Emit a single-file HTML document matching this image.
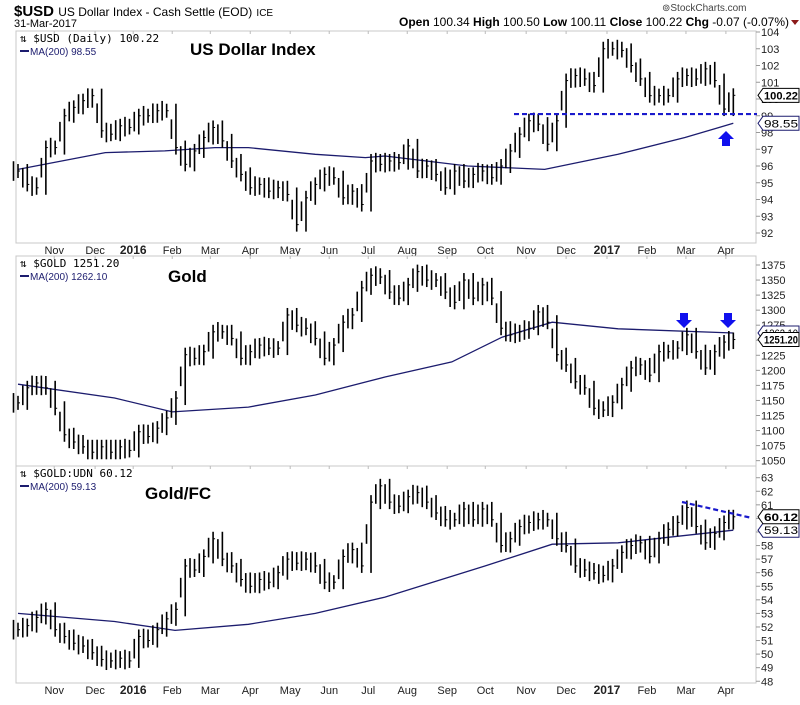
<!DOCTYPE html>
<html><head><meta charset="utf-8">
<style>
html,body{margin:0;padding:0;background:#fff;}
body{width:800px;height:700px;overflow:hidden;font-family:"Liberation Sans",sans-serif;}
svg text{font-family:"Liberation Sans",sans-serif;}
</style></head>
<body>
<svg id="chart" width="800" height="700" viewBox="0 0 800 700" xmlns="http://www.w3.org/2000/svg">
  <g>
    <text x="14" y="16" font-size="15" font-weight="bold">$USD <tspan font-size="12" font-weight="normal">US Dollar Index - Cash Settle (EOD)</tspan> <tspan font-size="10" font-weight="normal">ICE</tspan></text>
    <text x="14" y="27" font-size="11">31-Mar-2017</text>
    <text x="662" y="11" font-size="10" fill="#444">⊚StockCharts.com</text>
    <text x="789" y="26" font-size="12" text-anchor="end"><tspan font-weight="bold">Open</tspan> 100.34 <tspan font-weight="bold">High</tspan> 100.50 <tspan font-weight="bold">Low</tspan> 100.11 <tspan font-weight="bold">Close</tspan> 100.22 <tspan font-weight="bold">Chg</tspan> -0.07 (-0.07%)</text>
    <path d="M791 20 L799 20 L795 25 Z" fill="#8b1a1a"/>
  </g>
  <g id="panels"></g>
</svg>
<script>
// ---------- data ----------
const monthLabels = ["Nov","Dec","2016","Feb","Mar","Apr","May","Jun","Jul","Aug","Sep","Oct","Nov","Dec","2017","Feb","Mar","Apr"];
const monthIdx = [3.9,8.3,12.4,16.6,20.7,25.0,29.3,33.5,37.7,41.9,46.2,50.3,54.7,59.0,63.4,67.7,71.9,76.2];

const usdClose = [95.7,94.9,94.7,97.1,97.1,99.0,99.5,99.9,100.2,98.1,97.9,98.4,98.3,99.0,99.0,99.3,99.3,97.1,96.1,96.9,97.7,98.3,97.5,96.3,95.5,94.7,94.9,94.5,94.7,94.3,92.5,94.1,94.9,95.5,95.3,94.1,94.5,93.7,96.3,96.1,96.3,96.2,97.2,95.7,96.0,95.5,94.7,95.7,95.1,95.5,95.7,95.3,96.0,96.9,97.9,98.7,98.5,97.3,98.7,101.1,101.4,101.2,100.8,103.0,103.0,102.9,102.0,101.2,100.2,100.2,100.2,101.2,101.4,101.2,101.8,101.1,99.4,100.22];
const usdMaIdx = [0,9.4,15.8,21.2,24.8,32,37.4,39.5,48.4,56.7,64.6,71.8,77];
const usdMaVal = [95.8,96.8,96.9,97.1,97.1,96.7,96.5,96.6,96.0,95.8,96.7,97.7,98.55];
const usdTicks = [92,93,94,95,96,97,98,99,100,101,102,103,104];

const goldClose = [1146,1171,1179,1171,1137,1093,1081,1073,1064,1073,1064,1073,1067,1098,1090,1104,1121,1154,1226,1220,1231,1264,1264,1253,1220,1231,1242,1237,1237,1292,1275,1270,1253,1220,1242,1280,1292,1337,1358,1355,1330,1320,1342,1364,1350,1350,1330,1313,1350,1320,1342,1320,1270,1259,1264,1270,1297,1280,1226,1209,1181,1171,1137,1134,1147,1176,1204,1209,1192,1231,1231,1237,1259,1231,1204,1231,1247,1251.2];
const goldMaIdx = [0,10.4,16.6,24.8,32,39.5,46.7,52.1,57.5,64.6,77];
const goldMaVal = [1177,1154,1131,1139,1159,1189,1214,1255,1280,1269,1262.1];
const goldTicks = [1050,1075,1100,1125,1150,1175,1200,1225,1250,1275,1300,1325,1350,1375];

const ratioClose = [51.8,52.1,52.7,53.3,51.8,51.3,50.8,50.6,50.1,49.6,49.5,49.7,49.5,51.3,51.0,51.8,52.6,53.3,56.5,56.2,57.2,58.5,57.0,56.5,55.5,55.0,55.5,55.3,56.0,57.0,56.7,57.0,56.5,55.3,55.3,57.2,57.7,56.5,61.2,62.4,61.2,60.9,61.6,61.9,61.2,60.4,59.9,59.9,60.7,59.9,60.7,59.9,58.0,58.5,59.4,59.7,59.9,59.9,58.5,58.0,56.5,56.2,56.0,55.8,56.5,57.5,58.0,58.2,57.2,58.5,59.2,59.7,60.8,59.4,58.2,58.9,59.7,60.12];
const ratioMaIdx = [0,10.4,16.9,24.8,32,39.5,50.3,57.5,64.6,77];
const ratioMaVal = [53.0,52.4,51.75,52.2,53.0,54.2,56.5,58.1,58.2,59.13];
const ratioTicks = [48,49,50,51,52,53,54,55,56,57,58,59,60,61,62,63];

// ---------- layout ----------
const NS = "http://www.w3.org/2000/svg";
const L = 16, R = 756;
const X0 = 18, XS = 9.29;
function xOf(i){ return X0 + i*XS; }
function mk(tag, attrs, parent){
  const e = document.createElementNS(NS, tag);
  for (const k in attrs) e.setAttribute(k, attrs[k]);
  parent.appendChild(e);
  return e;
}
const root = document.getElementById('panels');

function panel(cfg){
  const g = mk('g', {}, root);
  
  
  const yOf = v => cfg.top + (cfg.vTop - v) * cfg.pxPer;
  const frame = mk('rect', {x:L, y:cfg.y0, width:R-L, height:cfg.y1-cfg.y0, fill:'none', stroke:'#c8c8c8', 'stroke-width':1}, g);
  
  
  cfg.ticks.forEach(t => {
    const y = yOf(t);
    const tk = mk('line', {x1:R, x2:R+4, y1:y, y2:y, stroke:'#999'}, g);
    
    
    const tx = mk('text', {x:R+5, y:y+4, 'font-size':11, fill:'#222'}, g);
    tx.textContent = t;
    
    
  });
  monthIdx.forEach(mi => {
    const x = xOf(mi);
    const mt = mk('line', {x1:x, x2:x, y1:cfg.y0, y2:cfg.y0+3, stroke:'#bbb'}, g);
    
    
  });
  let d = '';
  cfg.maIdx.forEach((mi, k) => { d += (k ? 'L' : 'M') + xOf(mi).toFixed(1) + ' ' + yOf(cfg.maVal[k]).toFixed(1); });
  const ma = mk('path', {d:d, fill:'none', stroke:'#1c1c6e', 'stroke-width':1.3}, g);
  
  
  const bars = mk('g', {stroke:'#000', 'stroke-width':1.6}, g);
  
  
  cfg.close.forEach((c, i) => {
    const prev = i ? cfg.close[i-1] : c;
    const x = xOf(i);
    const hi = Math.max(prev, c), lo = Math.min(prev, c);
    const pad = cfg.pad;
    const b = mk('line', {x1:x, x2:x, y1:yOf(hi)-pad, y2:yOf(lo)+pad}, bars);
    
    
    const mid = mk('line', {x1:x-4.5, x2:x-4.5, y1:(yOf(prev)+yOf(c))/2 - pad*1.4, y2:(yOf(prev)+yOf(c))/2 + pad*1.4}, bars);
    
    
    const ct = mk('line', {x1:x, x2:x+2, y1:yOf(c), y2:yOf(c), 'stroke-width':1}, bars);
    
    
  });
  const lg = mk('text', {x:20, y:cfg.y0+11, 'font-size':11, style:'font-family:"DejaVu Sans Mono",monospace', fill:'#000'}, g);
  lg.textContent = cfg.legend;
  
  
  const ll = mk('line', {x1:20, x2:29, y1:cfg.y0+20, y2:cfg.y0+20, stroke:'#1c1c6e', 'stroke-width':2}, g);
  
  
  const lm = mk('text', {x:30, y:cfg.y0+24, 'font-size':10, fill:'#1c1c6e'}, g);
  lm.textContent = 'MA(200) ' + cfg.maVal[cfg.maVal.length-1].toFixed(2);
  
  
  const tt = mk('text', {x:cfg.titleX, y:cfg.y0+cfg.titleDy, 'font-size':17, 'font-weight':'bold'}, g);
  tt.textContent = cfg.title;
  
  
  function tag(v, txt, bold, col){
    const y = yOf(v);
    const p = mk('path', {d:`M${R+2} ${y} L${R+7} ${y-7} L${R+43} ${y-7} L${R+43} ${y+7} L${R+7} ${y+7} Z`, fill:'#fff', stroke:col, 'stroke-width':1}, g);
    
    
    const t = mk('text', {x:R+8, y:y+4, 'font-size':11, 'font-weight':bold?'bold':'normal', fill:'#000', textLength:34, lengthAdjust:'spacingAndGlyphs'}, g);
    t.textContent = txt;
    
    
  }
  tag(cfg.maVal[cfg.maVal.length-1], cfg.maTag, false, '#1c1c6e');
  tag(cfg.close[cfg.close.length-1], cfg.lastTag, true, '#000');
  return {g, yOf};
}

function monthAxis(y, nm){
  const g = mk('g', {}, root);
  
  
  monthLabels.forEach((m, k) => {
    const x = xOf(monthIdx[k]);
    const bold = /^\d/.test(m);
    const t = mk('text', {x:x, y:y, 'font-size':bold?12:11, 'font-weight':bold?'bold':'normal', 'text-anchor':'middle', fill:'#222'}, g);
    t.textContent = m;
    
    
  });
}

const p1 = panel({name:'usd', y0:31, y1:243, top:32, vTop:104, pxPer:16.75, ticks:usdTicks, close:usdClose, maIdx:usdMaIdx, maVal:usdMaVal, pad:7,
  legend:'⇅ $USD (Daily) 100.22', title:'US Dollar Index', titleX:190, titleDy:24, lastTag:'100.22', maTag:'98.55'});
monthAxis(254, 'x-axis-top');
const p2 = panel({name:'gold', y0:256, y1:466, top:265, vTop:1375, pxPer:0.602, ticks:goldTicks, close:goldClose, maIdx:goldMaIdx, maVal:goldMaVal, pad:7,
  legend:'⇅ $GOLD 1251.20', title:'Gold', titleX:168, titleDy:26, lastTag:'1251.20', maTag:'1262.10'});
const p3 = panel({name:'gold-fc', y0:466, y1:683, top:477.7, vTop:63, pxPer:13.57, ticks:ratioTicks, close:ratioClose, maIdx:ratioMaIdx, maVal:ratioMaVal, pad:7,
  legend:'⇅ $GOLD:UDN 60.12', title:'Gold/FC', titleX:145, titleDy:33, lastTag:'60.12', maTag:'59.13'});
monthAxis(694, 'x-axis-bottom');

const ann = mk('g', {}, root);


const sup = mk('line', {x1:514, x2:757, y1:p1.yOf(99.1), y2:p1.yOf(99.1), stroke:'#1a1acc', 'stroke-width':2.2, 'stroke-dasharray':'5,3'}, ann);


function arrow(x, yTip, up, nm){
  const d = up
    ? `M${x} ${yTip} L${x+8} ${yTip+8} L${x+4} ${yTip+8} L${x+4} ${yTip+15} L${x-4} ${yTip+15} L${x-4} ${yTip+8} L${x-8} ${yTip+8} Z`
    : `M${x} ${yTip} L${x+8} ${yTip-8} L${x+4} ${yTip-8} L${x+4} ${yTip-15} L${x-4} ${yTip-15} L${x-4} ${yTip-8} L${x-8} ${yTip-8} Z`;
  const a = mk('path', {d:d, fill:'#1010ee'}, ann);
  
  
}
arrow(726, 131, true, 'usd-up-arrow');
arrow(684, 328, false, 'gold-down-arrow-1');
arrow(728, 328, false, 'gold-down-arrow-2');
const res = mk('line', {x1:682, x2:752, y1:502, y2:518, stroke:'#1a1acc', 'stroke-width':2.2, 'stroke-dasharray':'5,3'}, ann);


</script>
</body></html>
